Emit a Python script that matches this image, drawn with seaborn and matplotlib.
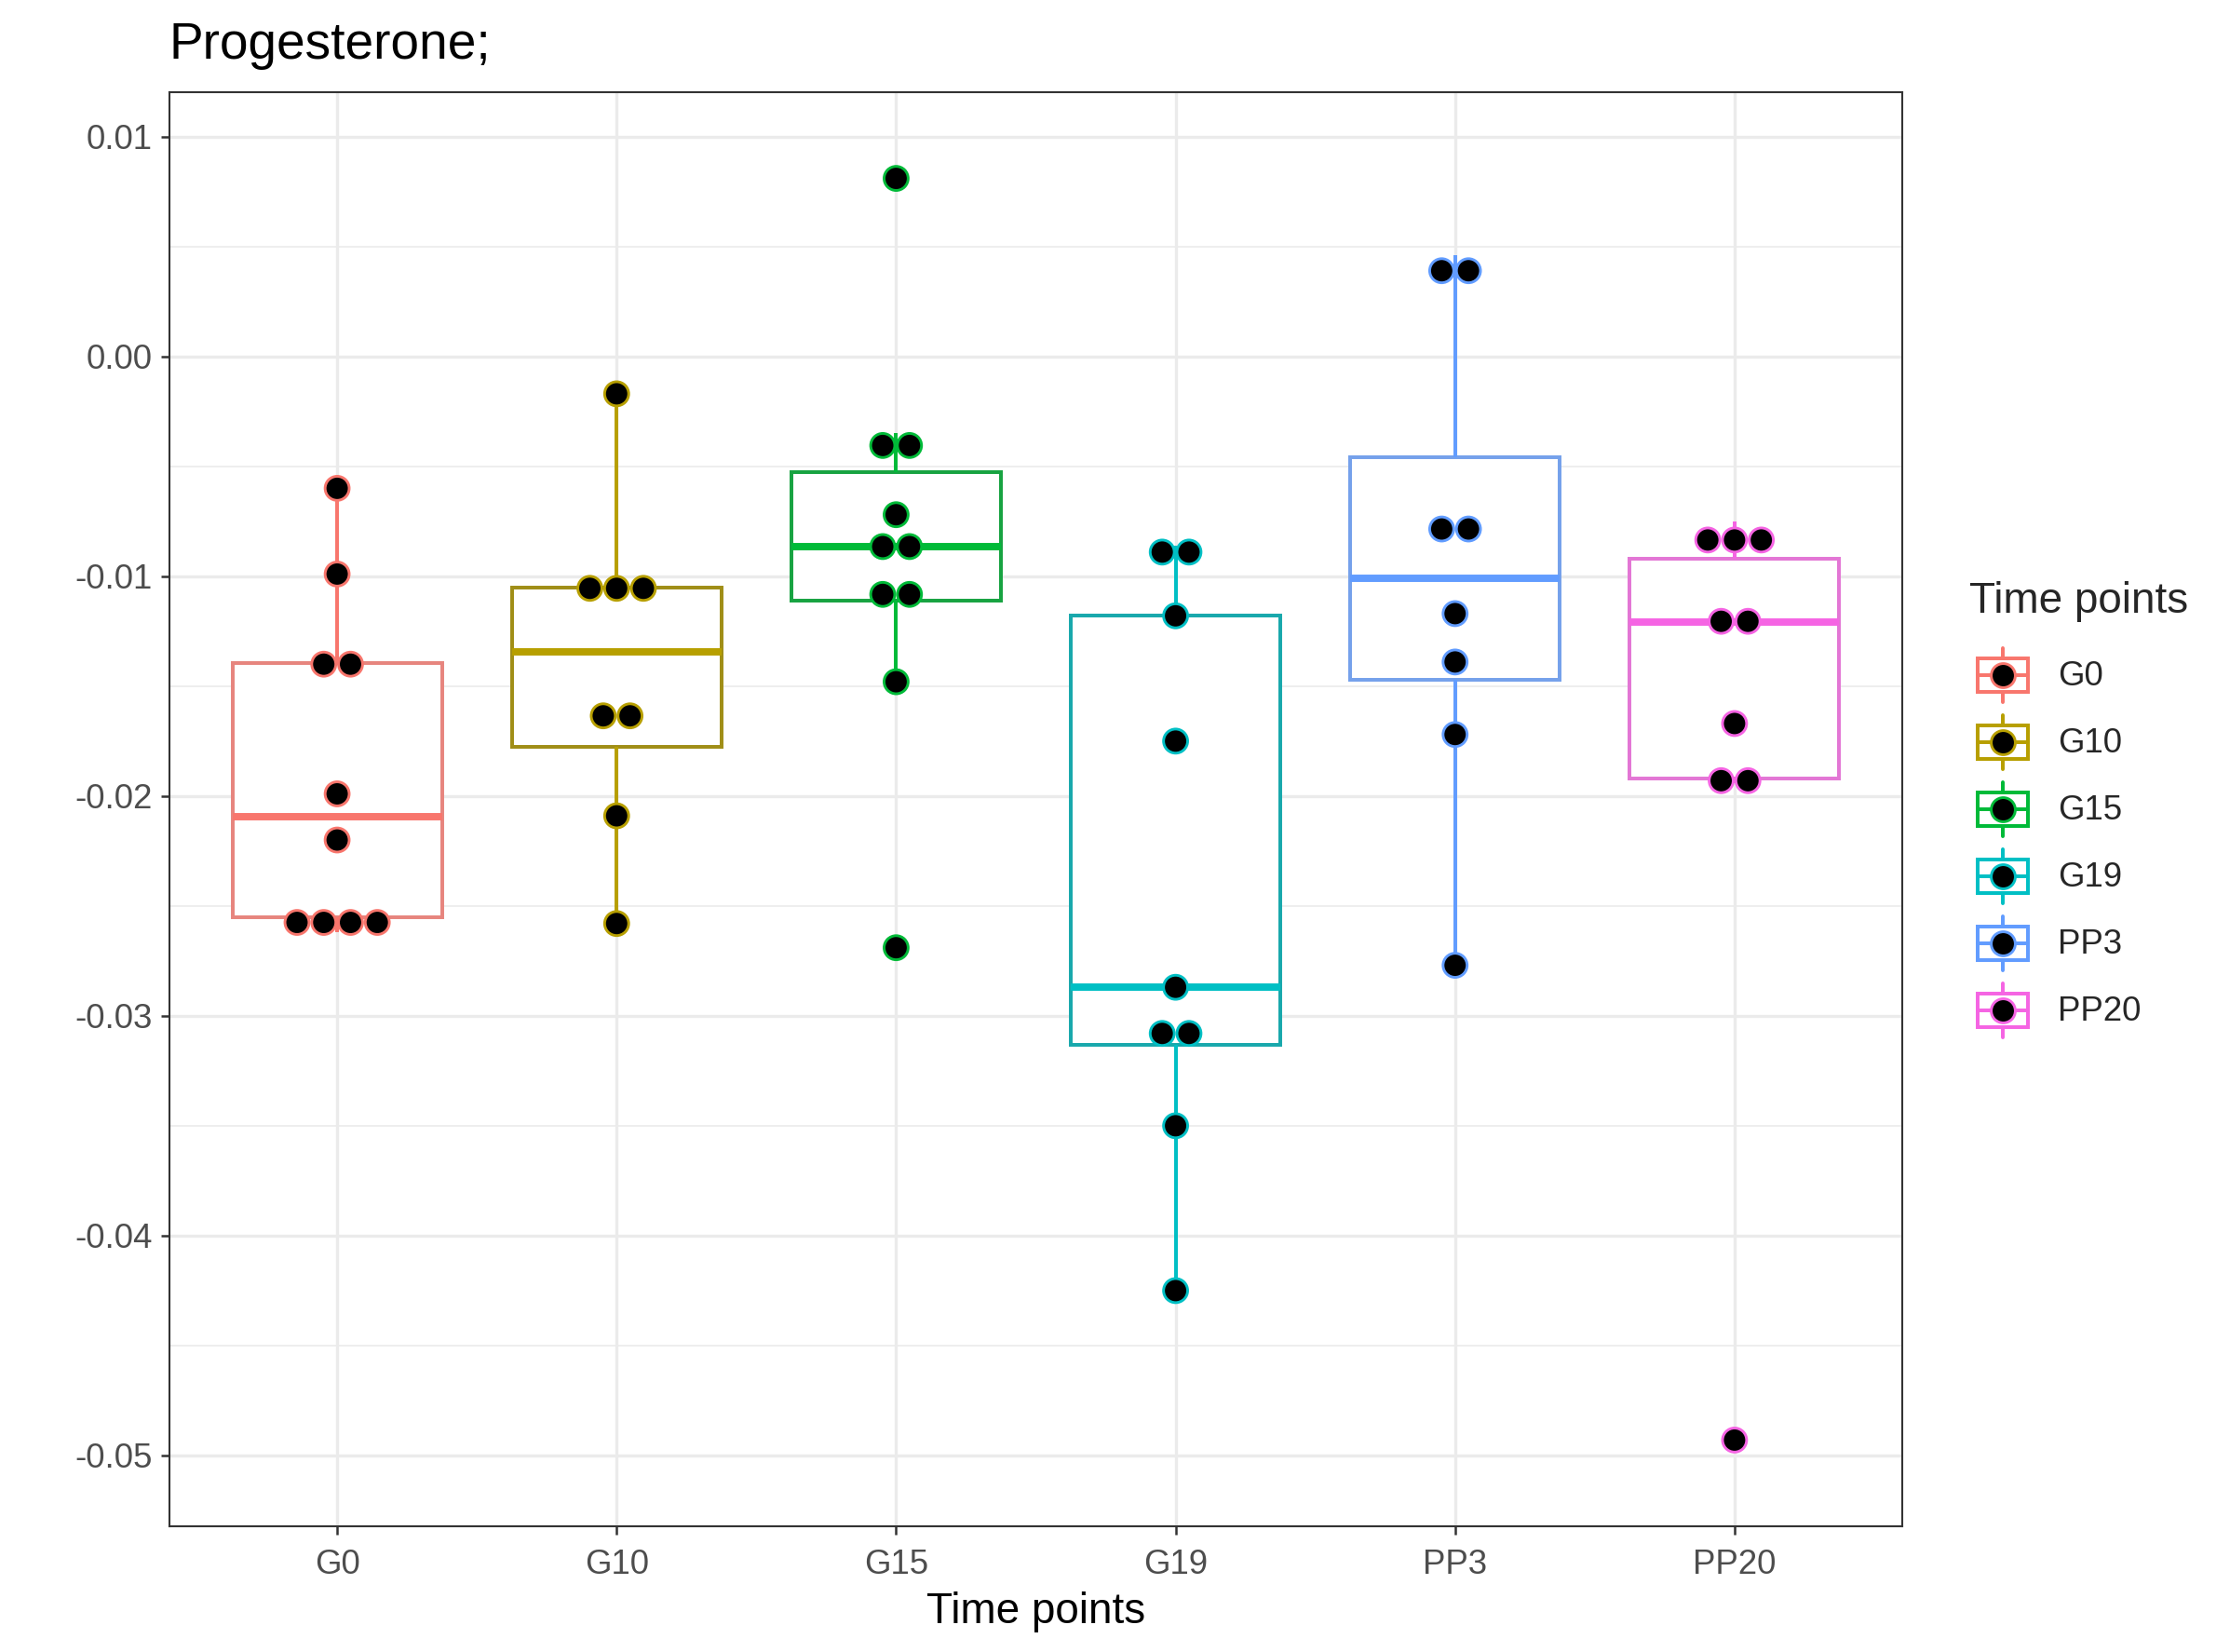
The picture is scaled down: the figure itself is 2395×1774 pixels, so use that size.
import matplotlib
matplotlib.use("Agg")
import matplotlib.pyplot as plt
import numpy as np
import pandas as pd
import seaborn as sns
from matplotlib.legend_handler import HandlerBase
from matplotlib.lines import Line2D
from matplotlib.patches import Rectangle
from matplotlib.ticker import FuncFormatter, MultipleLocator

# data
groups = ["G0", "G10", "G15", "G19", "PP3", "PP20"]
colors = ["#F8766D", "#B79F00", "#00BA38", "#00BFC4", "#619CFF", "#F564E3"]

g0 = [-0.0060, -0.0099, -0.0139, -0.0141, -0.0199, -0.0220, -0.0253, -0.0256, -0.0257, -0.0262]
g10 = [-0.0017, -0.0102, -0.0106, -0.0109, -0.0160, -0.0167, -0.0209, -0.0258]
g15 = [0.0081, -0.0035, -0.0046, -0.0072, -0.0081, -0.0092, -0.01025, -0.0114, -0.0148, -0.0269]
g19 = [-0.0086, -0.0092, -0.0118, -0.0175, -0.0287, -0.0303, -0.0313, -0.0350, -0.0425]
pp3 = [0.0046, 0.0032, -0.0072, -0.0085, -0.0117, -0.0139, -0.0172, -0.0277]
pp20 = [-0.0075, -0.0083, -0.0092, -0.0120, -0.0121, -0.0167, -0.0192, -0.0194, -0.0493]
values = [g0, g10, g15, g19, pp3, pp20]

W, H, DPI = 2395, 1774, 300
DOT = 6.2      # dot diameter (pt)
DOT_EDGE = 0.7
LW = 0.95

sns.set_theme(style="white")
plt.rcParams["font.family"] = ["Liberation Sans", "DejaVu Sans"]
plt.rcParams["axes.unicode_minus"] = False

df = pd.DataFrame({
    "Time points": np.repeat(groups, [len(v) for v in values]),
    "value": np.concatenate(values),
})

allv = df["value"].to_numpy()
binwidth = (allv.max() - allv.min()) / 30


def dot_bins(vals, bw):
    # same scan as ggplot's dotdensity binning
    bins, end = [], -np.inf
    for x in np.sort(vals):
        if x >= end:
            bins.append([x])
            end = x + bw
        else:
            bins[-1].append(x)
    return [((b[0] + b[-1]) / 2, len(b)) for b in bins]


fig = plt.figure(figsize=(W / DPI, H / DPI), dpi=DPI)
ax = fig.add_axes([182 / W, 1 - 1639 / H, (2043 - 182) / W, (1639 - 99) / H])

sns.boxplot(data=df, x="Time points", y="value", hue="Time points", order=groups,
            hue_order=groups, palette=colors, dodge=False, width=0.75, linewidth=LW,
            showcaps=False, showfliers=False, medianprops={"linewidth": 2 * LW},
            legend=False, ax=ax)
# white boxes with coloured outlines
for p in ax.patches:
    c = p.get_facecolor()
    p.set_facecolor("white")
    p.set_edgecolor(c)
for ln in ax.lines:
    xs = np.asarray(ln.get_xdata(), dtype=float)
    if len(xs):
        ln.set_color(colors[int(round(xs.mean()))])

lo, hi = allv.min() - binwidth / 2, allv.max() + binwidth / 2
pad = (hi - lo) * 0.05
ax.set_xlim(-0.6, len(groups) - 0.4)
ax.set_ylim(lo - pad, hi + pad)

# centred dot stacks
px_per_x = ax.transData.transform([(1, 0)])[0, 0] - ax.transData.transform([(0, 0)])[0, 0]
step = (DOT + DOT_EDGE) * DPI / 72 / px_per_x
rows = []
for i, (g, v) in enumerate(zip(groups, values)):
    for center, n in dot_bins(v, binwidth):
        for k in range(n):
            rows.append({"Time points": g, "x": i + (k - (n - 1) / 2) * step, "y": center})
dots = pd.DataFrame(rows)
sns.scatterplot(data=dots, x="x", y="y", hue="Time points", hue_order=groups,
                palette=colors, s=DOT ** 2, linewidth=DOT_EDGE, legend=False,
                zorder=3, ax=ax)
pts = ax.collections[-1]
pts.set_edgecolors(pts.get_facecolors())
pts.set_facecolors("black")

# axes styling (theme_bw look)
ax.set_axisbelow(True)
ax.yaxis.set_major_locator(MultipleLocator(0.01))
ax.yaxis.set_minor_locator(MultipleLocator(0.005))
ax.yaxis.set_major_formatter(FuncFormatter(lambda v, _: f"{0 if abs(v) < 1e-9 else v:.2f}"))
ax.set_xticks(range(len(groups)))
ax.set_xticklabels(groups)
ax.grid(which="major", color="#EBEBEB", linewidth=0.8)
ax.grid(which="minor", axis="y", color="#EBEBEB", linewidth=0.4)
ax.tick_params(which="major", length=2.2, width=0.6, color="#333333",
               labelcolor="#4D4D4D", labelsize=8.8, pad=2.2, left=True, bottom=True)
ax.tick_params(axis="x", which="major", pad=3.6)
ax.tick_params(which="minor", length=0)
for s in ax.spines.values():
    s.set_color("#333333")
    s.set_linewidth(0.5)
ax.set_xlabel("Time points", fontsize=11, color="black", labelpad=2.6)
ax.set_ylabel("")
ax.set_title("Progesterone;", loc="left", fontsize=13.2, color="black", pad=8.6)


class BoxDotKey(HandlerBase):
    def create_artists(self, legend, orig, xd, yd, w, h, fontsize, trans):
        c = orig.get_color()
        x0, y0 = -xd, -yd
        cx, cy = x0 + w / 2, y0 + h / 2
        whisk = Line2D([cx, cx], [y0 + 0.1 * h, y0 + 0.9 * h], color=c, lw=LW)
        box = Rectangle((x0 + 0.125 * w, y0 + 0.25 * h), 0.75 * w, 0.5 * h,
                        facecolor="white", edgecolor=c, lw=LW)
        med = Line2D([x0 + 0.125 * w, x0 + 0.875 * w], [cy, cy], color=c, lw=LW)
        dot = Line2D([cx], [cy], marker="o", ls="none", markersize=DOT,
                     markerfacecolor="black", markeredgecolor=c, markeredgewidth=DOT_EDGE)
        arts = [whisk, box, med, dot]
        for a in arts:
            a.set_transform(trans)
        return arts


handles = [Line2D([], [], color=c) for c in colors]
leg = ax.legend(handles, groups, handler_map={Line2D: BoxDotKey()}, title="Time points",
                loc="upper left", bbox_to_anchor=(2115 / W, 1 - 624 / H),
                bbox_transform=fig.transFigure, frameon=False, fontsize=8.8,
                title_fontsize=11, handlelength=17.28 / 8.8, handleheight=2.644,
                labelspacing=0, handletextpad=0.625, borderpad=0, borderaxespad=0,
                alignment="left")
leg._legend_box.sep = 5

fig.savefig("out.png", dpi=DPI)
